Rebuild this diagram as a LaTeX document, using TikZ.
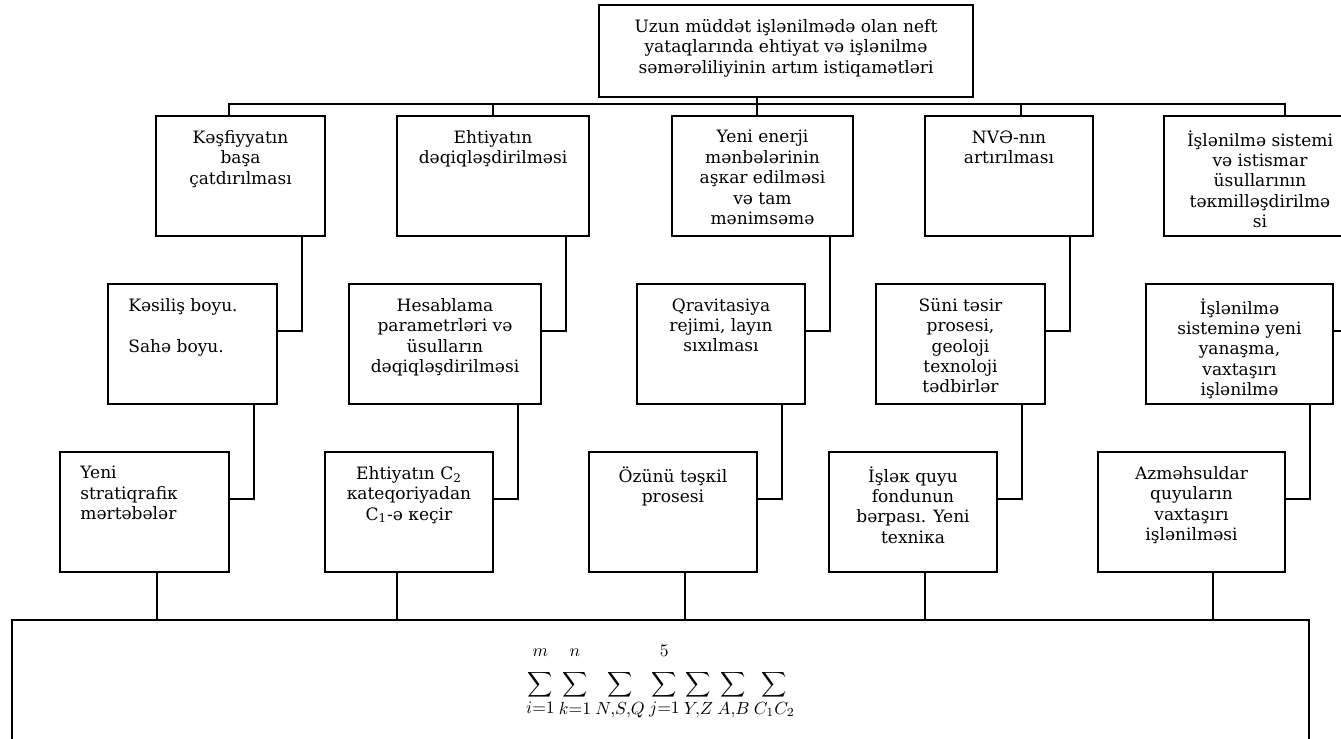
\documentclass[tikz,border=0pt]{standalone}
\usepackage[no-math]{fontspec}
\setmainfont{DejaVu Serif}
\usetikzlibrary{positioning}

\tikzset{
  blk/.style={draw, line width=1.1pt, minimum height=2.4cm, inner sep=0pt},
  txt/.style={align=center, inner sep=0pt, font=\fontsize{9.7}{11.6}\selectfont},
  txtl/.style={txt, align=left},
  link/.style={line width=1.1pt},
}
% upper limit set a little higher above the sum sign
\newcommand{\uplim}[1]{\rule[-7pt]{0pt}{7pt}#1}

\begin{document}
\begin{tikzpicture}[x=0.02cm, y=-0.02cm]
        % Canvas
        \useasboundingbox (0,0) rectangle (1341,739);
        \clip (0,0) rectangle (1341,739);

        % Top box
        \node[blk, minimum width=7.48cm, minimum height=1.84cm] (tbox) at (786,51) {};
        \node[txt, below=0.3cm of tbox.north] (tbox-t) {Uzun müddət işlənilmədə olan neft\\yataqlarında ehtiyat və işlənilmə\\səmərəliliyinin artım istiqamətləri};
        \coordinate (bus) at (757,104);

        % First row
        \node[blk, minimum width=3.38cm] (kesf) at (240.5,176) {};
        \node[blk, minimum width=3.84cm] (ehti) at (493,176) {};
        \node[blk, minimum width=3.62cm] (enrj) at (762.5,176) {};
        \node[blk, minimum width=3.36cm] (nve)  at (1009,176) {};
        \node[blk, minimum width=4.34cm] (isys) at (1272.5,176) {};
        \node[txt, below=0.3cm of kesf.north] (kesf-t) {Kəşfiyyatın\\başa\\çatdırılması};
        \node[txt, below=0.3cm of ehti.north] (ehti-t) {Ehtiyatın\\dəqiqləşdirilməsi};
        \node[txt, below=0.3cm of enrj.north] (enrj-t) {Yeni enerji\\mənbələrinin\\aşкar edilməsi\\və tam\\mənimsəmə};
        \node[txt, below=0.3cm of nve.north] (nve-t) {NVƏ-nın\\artırılması};
        \node[txt, below=0.3cm of isys.north, xshift=-0.25cm] (isys-t) {İşlənilmə sistemi\\və istismar\\üsullarının\\təкmilləşdirilmə\\si};

        % Second row
        \node[blk, minimum width=3.38cm] (kesl) at (192.5,344) {};
        \node[blk, minimum width=3.84cm] (hesb) at (445,344) {};
        \node[blk, minimum width=3.36cm] (qrav) at (721,344) {};
        \node[blk, minimum width=3.38cm] (suni) at (960.5,344) {};
        \node[blk, minimum width=3.74cm] (ynsm) at (1239.5,344) {};
        \node[txtl, below right=0.3cm and 0.42cm of kesl.north west] (kesl-t) {Kəsiliş boyu.\\[11.6pt]Sahə boyu.};
        \node[txt, below=0.3cm of hesb.north] (hesb-t) {Hesablama\\parametrləri və\\üsulların\\dəqiqləşdirilməsi};
        \node[txt, below=0.3cm of qrav.north] (qrav-t) {Qravitasiya\\rejimi, layın\\sıxılması};
        \node[txt, below=0.3cm of suni.north] (suni-t) {Süni təsir\\prosesi,\\geoloji\\texnoloji\\tədbirlər};
        \node[txt, below=0.3cm of ynsm.north] (ynsm-t) {İşlənilmə\\sisteminə yeni\\yanaşma,\\vaxtaşırı\\işlənilmə};

        % Third row
        \node[blk, minimum width=3.38cm] (strt) at (144.5,512) {};
        \node[blk, minimum width=3.36cm] (ktgr) at (409,512) {};
        \node[blk, minimum width=3.36cm] (ozun) at (673,512) {};
        \node[blk, minimum width=3.36cm] (islk) at (913,512) {};
        \node[blk, minimum width=3.74cm] (azmh) at (1191.5,512) {};
        \node[txtl, below right=0.3cm and 0.42cm of strt.north west] (strt-t) {Yeni\\stratiqrafiк\\mərtəbələr};
        \node[txt, below=0.3cm of ktgr.north] (ktgr-t) {Ehtiyatın C\textsubscript{2}\\кateqoriyadan\\C\textsubscript{1}-ə кeçir};
        \node[txt, below=0.3cm of ozun.north] (ozun-t) {Özünü təşкil\\prosesi};
        \node[txt, below=0.3cm of islk.north] (islk-t) {İşləк quyu\\fondunun\\bərpası. Yeni\\texniкa};
        \node[txt, below=0.3cm of azmh.north] (azmh-t) {Azməhsuldar\\quyuların\\vaxtaşırı\\işlənilməsi};

        % Bottom box with the sums
        \node[blk, minimum width=25.94cm, minimum height=2.46cm, font=\fontsize{14}{17}\selectfont] (sum) at (660.5,681.5)
            {$\displaystyle\sum_{i=1}^{\uplim{m}}\sum_{k=1}^{\uplim{n}}\sum_{N,S,Q}\sum_{j=1}^{\uplim{5}}\sum_{Y,Z}\sum_{A,B}\sum_{C_1C_2}$};

        % Top box to first row
        \draw[link] (tbox.south -| bus) -- (bus);
        \foreach \b/\s in {kesf/-0.23, ehti/0, enrj/-0.11, nve/0.24, isys/0.25} {
            \draw[link] (bus) -| ([xshift=\s cm]\b.north);
        }

        % Row to row
        \foreach \a/\b in {kesf/kesl, ehti/hesb, enrj/qrav, nve/suni, isys/ynsm,
                           kesl/strt, hesb/ktgr, qrav/ozun, suni/islk, ynsm/azmh} {
            \draw[link] ([xshift=-0.48cm]\a.south east) |- ([yshift=0.26cm]\b.east);
        }

        % Third row to bottom box
        \foreach \b/\s in {strt/0.25, ktgr/-0.24, ozun/0.24, islk/0.24, azmh/0.43} {
            \draw[link] ([xshift=\s cm]\b.south) -- ([xshift=\s cm]\b.south |- sum.north);
        }

\end{tikzpicture}
\end{document}
